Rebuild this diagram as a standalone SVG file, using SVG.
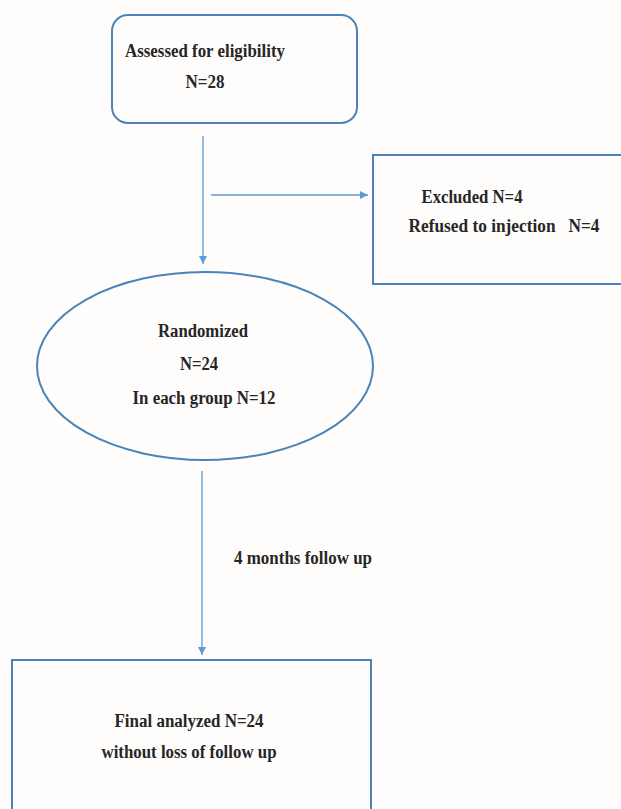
<svg xmlns="http://www.w3.org/2000/svg" width="621" height="809" viewBox="0 0 621 809">
<style>
.box{fill:#fffdfc;stroke:#4a84b8;stroke-width:2}
.t{font-family:'Liberation Serif','DejaVu Serif',serif;font-weight:700;font-size:18px;fill:#262626;text-anchor:middle}
.c{fill:none;stroke:#5b9bd5;stroke-width:1.3}
</style>
<defs>
<marker id="ah" viewBox="0 0 10 10" refX="10" refY="5" markerWidth="8" markerHeight="8" markerUnits="userSpaceOnUse" orient="auto">
<path d="M0,0 L10,5 L0,10 z" fill="#5b9bd5"/>
</marker>
</defs>
<rect width="621" height="809" fill="#fffdfc"/>
<g id="connectors">
<line class="c" x1="203" y1="136" x2="203" y2="264" marker-end="url(#ah)"/>
<line class="c" x1="211" y1="195" x2="368" y2="195" marker-end="url(#ah)"/>
<line class="c" x1="202" y1="471" x2="202" y2="655" marker-end="url(#ah)"/>
<text class="t" x="303" y="564" textLength="138" lengthAdjust="spacingAndGlyphs">4 months follow up</text>
</g>
<g id="assessed">
<rect class="box" x="112" y="15" width="245" height="108" rx="16"/>
<text class="t" x="205" y="57" textLength="160" lengthAdjust="spacingAndGlyphs">Assessed for eligibility</text>
<text class="t" x="205" y="88" textLength="39" lengthAdjust="spacingAndGlyphs">N=28</text>
</g>
<g id="excluded">
<rect class="box" x="373" y="155" width="260" height="129"/>
<text class="t" x="472" y="203" textLength="101" lengthAdjust="spacingAndGlyphs">Excluded N=4</text>
<text class="t" x="504" y="232" xml:space="preserve" textLength="191" lengthAdjust="spacingAndGlyphs">Refused to injection   N=4</text>
</g>
<g id="randomized">
<ellipse class="box" cx="205" cy="366" rx="168" ry="94" stroke-width="1.6"/>
<text class="t" x="203" y="337" textLength="90" lengthAdjust="spacingAndGlyphs">Randomized</text>
<text class="t" x="199" y="370" textLength="38" lengthAdjust="spacingAndGlyphs">N=24</text>
<text class="t" x="204" y="404" textLength="143" lengthAdjust="spacingAndGlyphs">In each group N=12</text>
</g>
<g id="final">
<rect class="box" x="12" y="660" width="359" height="160"/>
<text class="t" x="189" y="727" textLength="149" lengthAdjust="spacingAndGlyphs">Final analyzed N=24</text>
<text class="t" x="189" y="758" textLength="175" lengthAdjust="spacingAndGlyphs">without loss of follow up</text>
</g>
</svg>
